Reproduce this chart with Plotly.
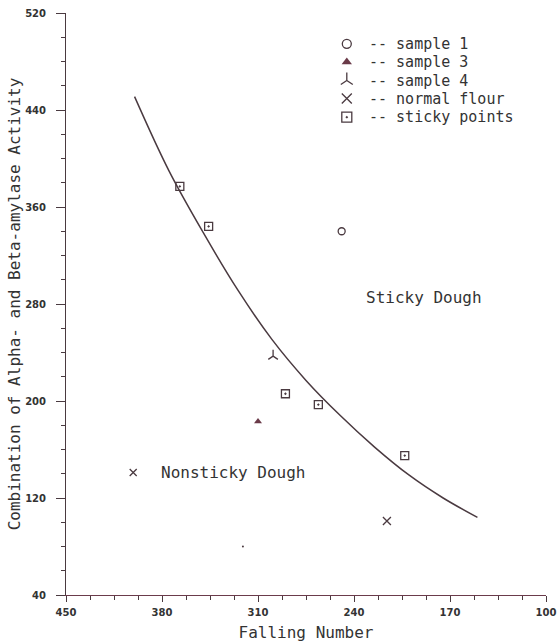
import plotly.graph_objects as go

# Fitted boundary curve
curve_x = [400, 375, 350, 325, 300, 275, 250, 225, 200, 175, 150]
curve_y = [451, 390, 339, 292, 251, 217, 188, 162, 139, 120, 104]

sticky_x = [367, 346, 290, 266, 203]
sticky_y = [377, 344, 206, 197, 155]

s1_x, s1_y = [249], [340]
s3_x, s3_y = [310], [183]
s4_x, s4_y = [299], [237]
nf_x, nf_y = [216], [101]

nonsticky_mark_x, nonsticky_mark_y = [401], [141]
stray_x, stray_y = [321], [80]

x_ticks = [450, 380, 310, 240, 170, 100]
y_ticks = [40, 120, 200, 280, 360, 440, 520]

legend_labels = ["-- sample 1", "-- sample 3", "-- sample 4", "-- normal flour", "-- sticky points"]

INK = "#4a3a40"
TXT = "#333333"
MONO = "DejaVu Sans Mono"

sym = dict(
    s1=dict(symbol="circle-open", size=7, color=INK, line=dict(width=1.3, color=INK)),
    s3=dict(symbol="triangle-up", size=7, color="#6a3a48"),
    s4=dict(symbol="y-up-open", size=8, color=INK, line=dict(width=1.3, color=INK)),
    nf=dict(symbol="x-thin-open", size=8, color=INK, line=dict(width=1.3, color=INK)),
    st=dict(symbol="square-open-dot", size=8, color=INK, line=dict(width=1.3, color=INK)),
)

fig = go.Figure()
fig.add_trace(go.Scatter(x=curve_x, y=curve_y, mode="lines",
                         line=dict(color=INK, width=1.5, shape="spline"), hoverinfo="skip"))
fig.add_trace(go.Scatter(x=s1_x, y=s1_y, mode="markers", marker=sym["s1"]))
fig.add_trace(go.Scatter(x=s3_x, y=s3_y, mode="markers", marker=sym["s3"]))
fig.add_trace(go.Scatter(x=s4_x, y=s4_y, mode="markers", marker=sym["s4"]))
fig.add_trace(go.Scatter(x=nf_x, y=nf_y, mode="markers", marker=sym["nf"]))
fig.add_trace(go.Scatter(x=sticky_x, y=sticky_y, mode="markers", marker=sym["st"]))
fig.add_trace(go.Scatter(x=nonsticky_mark_x, y=nonsticky_mark_y, mode="markers",
                         marker=dict(symbol="x-thin-open", size=7, color=INK, line=dict(width=1.3, color=INK))))
fig.add_trace(go.Scatter(x=stray_x, y=stray_y, mode="markers",
                         marker=dict(symbol="circle", size=2, color=INK)))

# manual legend (keys on an invisible overlay axis spanning the plot area, 0..1)
leg_sym_x = 0.585
leg_txt_x = 0.627
leg_rows = [0.947, 0.916, 0.884, 0.853, 0.821]
keys = ["s1", "s3", "s4", "nf", "st"]
for k, yy in zip(keys, leg_rows):
    m = dict(sym[k])
    m["size"] = m["size"] + 2
    fig.add_trace(go.Scatter(x=[leg_sym_x], y=[yy], mode="markers", marker=m,
                             xaxis="x2", yaxis="y2", hoverinfo="skip"))
for lab, yy in zip(legend_labels, leg_rows):
    fig.add_annotation(x=leg_txt_x, y=yy, xref="paper", yref="paper", text=lab, showarrow=False,
                       xanchor="left", yanchor="middle", font=dict(family=MONO, size=15, color=TXT))

fig.add_annotation(x=189, y=285, text="Sticky Dough", showarrow=False,
                   font=dict(family=MONO, size=16, color=TXT))
fig.add_annotation(x=382, y=141, text="Nonsticky Dough", showarrow=False, xanchor="left",
                   font=dict(family=MONO, size=16, color=TXT))

fig.update_layout(
    width=560, height=642,
    margin=dict(l=66, r=14, t=13, b=47),
    paper_bgcolor="white", plot_bgcolor="white",
    showlegend=False,
    font=dict(family=MONO, color=TXT),
    xaxis=dict(range=[450, 100], tickmode="array", tickvals=x_ticks, ticktext=[str(v) for v in x_ticks],
               showgrid=False, zeroline=False, showline=True, linecolor="#6b3b4b", linewidth=1,
               ticks="outside", ticklen=6, tickcolor=INK, automargin=False, ticklabelstandoff=2,
               minor=dict(tick0=100, dtick=17.5, ticks="outside", ticklen=4, tickcolor=INK, showgrid=False),
               tickfont=dict(family="DejaVu Sans", size=10, color=TXT, weight="bold"),
               title=dict(text="Falling Number", font=dict(family=MONO, size=16, color=TXT), standoff=9)),
    yaxis=dict(range=[40, 520], tickmode="array", tickvals=y_ticks, ticktext=[str(v) for v in y_ticks],
               showgrid=False, zeroline=False, showline=True, linecolor=INK, linewidth=1,
               ticks="outside", ticklen=9, tickcolor=INK, ticklabelstandoff=8, automargin=False,
               minor=dict(tick0=40, dtick=20, ticks="outside", ticklen=4, tickcolor=INK, showgrid=False),
               tickfont=dict(family="DejaVu Sans", size=10, color=TXT, weight="bold"),
               title=dict(text="Combination of Alpha- and Beta-amylase Activity",
                          font=dict(family=MONO, size=16, color=TXT), standoff=0)),
    xaxis2=dict(overlaying="x", range=[0, 1], visible=False, fixedrange=True),
    yaxis2=dict(overlaying="y", range=[0, 1], visible=False, fixedrange=True),
)

fig.write_html("out.html")
